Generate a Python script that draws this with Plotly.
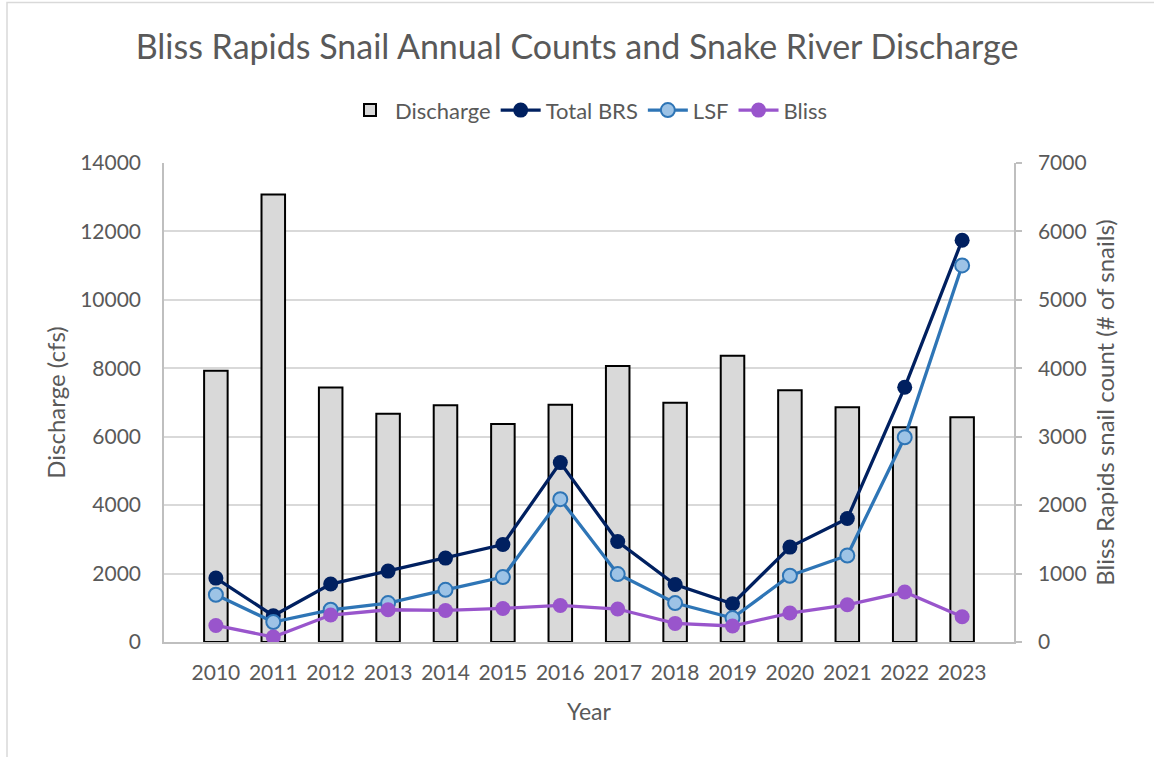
import plotly.graph_objects as go

years = ["2010", "2011", "2012", "2013", "2014", "2015", "2016",
         "2017", "2018", "2019", "2020", "2021", "2022", "2023"]
discharge = [7930, 13080, 7440, 6670, 6920, 6370, 6935,
             8070, 6990, 8370, 7355, 6860, 6280, 6570]
total_brs = [934, 384, 847, 1036, 1226, 1425, 2622,
             1468, 841, 559, 1387, 1804, 3722, 5872]
lsf = [690, 292, 471, 569, 763, 949, 2087,
       993, 569, 350, 968, 1264, 2992, 5503]
bliss = [242, 73, 394, 471, 461, 490, 534,
         482, 272, 234, 423, 544, 730, 369]

FONT = "Lato, Open Sans, sans-serif"
TXT = "#595959"

fig = go.Figure()
fig.add_trace(go.Bar(x=years, y=discharge, name="Discharge",
                     marker=dict(color="#D9D9D9", line=dict(color="#000000", width=2)),
                     yaxis="y"))
fig.add_trace(go.Scatter(x=years, y=total_brs, name="Total BRS", mode="lines+markers",
                         line=dict(color="#002060", width=3.3),
                         marker=dict(size=15, color="#002060"), yaxis="y2"))
fig.add_trace(go.Scatter(x=years, y=lsf, name="LSF", mode="lines+markers",
                         line=dict(color="#2E75B6", width=3.3),
                         marker=dict(size=14, color="#9DC3E6", line=dict(color="#2E75B6", width=2)),
                         yaxis="y2"))
fig.add_trace(go.Scatter(x=years, y=bliss, name="Bliss", mode="lines+markers",
                         line=dict(color="#9955CC", width=3.3),
                         marker=dict(size=15, color="#9955CC"), yaxis="y2"))

fig.update_layout(
    width=1154, height=757,
    margin=dict(l=164, r=140, t=163, b=115),
    paper_bgcolor="white", plot_bgcolor="white",
    font=dict(family=FONT, color=TXT, size=21),
    title=dict(text="Bliss Rapids Snail Annual Counts and Snake River Discharge",
               x=0.5, xanchor="center", y=1 - 47 / 757, yanchor="middle",
               font=dict(size=34, color=TXT, family=FONT)),
    bargap=0.59,
    showlegend=True,
    legend=dict(orientation="h", x=0.5, xanchor="center", y=1.11, yanchor="middle",
                font=dict(size=22, color=TXT), traceorder="normal",
                itemwidth=40),
    xaxis=dict(type="category", showgrid=False, showline=True, linecolor="#BFBFBF",
               linewidth=1.5, ticks="", tickfont=dict(size=21, color=TXT),
               ticklabelstandoff=11,
               title=dict(text="Year", font=dict(size=23, color=TXT), standoff=21)),
    yaxis=dict(range=[0, 14000], dtick=2000, tickformat="d", showgrid=True,
               gridcolor="#D9D9D9", gridwidth=1.5, showline=True, linecolor="#BFBFBF",
               linewidth=1.5, ticks="", tickfont=dict(size=21, color=TXT),
               ticklabelstandoff=17, zeroline=False,
               title=dict(text="Discharge (cfs)", font=dict(size=24, color=TXT), standoff=8)),
    yaxis2=dict(range=[0, 7000], dtick=1000, tickformat="d", overlaying="y", side="right",
                showgrid=False, showline=True, linecolor="#BFBFBF", linewidth=1.5,
                ticks="outside", ticklen=6, tickcolor="#BFBFBF", tickwidth=1.5,
                tickfont=dict(size=21, color=TXT), ticklabelstandoff=12,
                zeroline=False,
                title=dict(text="Bliss Rapids snail count (# of snails)",
                           font=dict(size=24, color=TXT), standoff=12)),
)

# outer chart frame
fig.add_shape(type="rect", xref="paper", yref="paper",
              x0=(7 - 164) / 850, x1=1.3, y0=-0.4, y1=(642.3 - 2) / 479.6,
              line=dict(color="#D9D9D9", width=1.5), fillcolor="rgba(0,0,0,0)",
              layer="below")

fig.write_html("out.html", config={"displayModeBar": False},
               post_script="document.body.style.margin='0';")
